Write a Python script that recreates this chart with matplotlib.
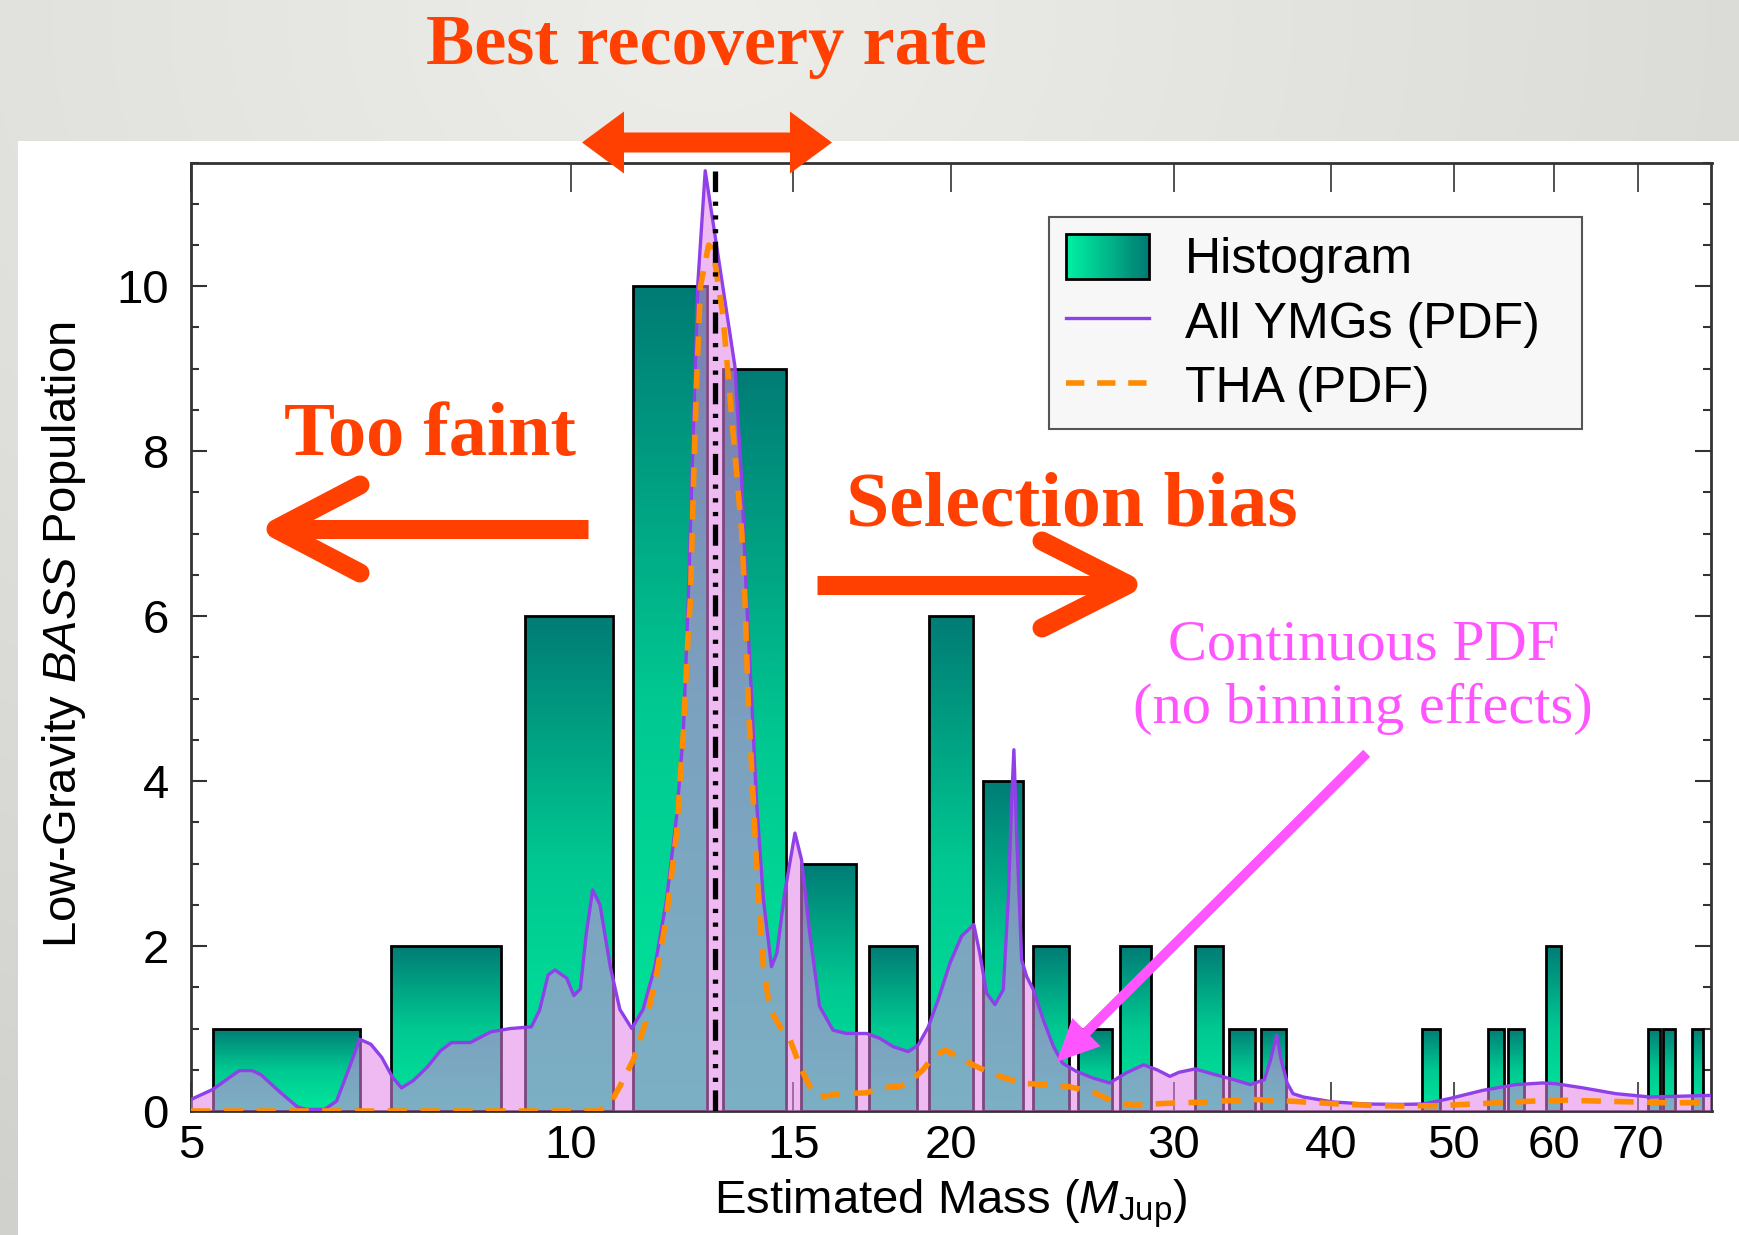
import numpy as np
import matplotlib
matplotlib.use("Agg")
import matplotlib.pyplot as plt
from matplotlib.patches import Rectangle, FancyArrow
from matplotlib.colors import LinearSegmentedColormap
from matplotlib.legend_handler import HandlerBase
from matplotlib.lines import Line2D
from matplotlib.ticker import FixedLocator, FixedFormatter, MultipleLocator, NullLocator

plt.rcParams['font.family'] = ['Liberation Sans', 'DejaVu Sans']
plt.rcParams['mathtext.fontset'] = 'custom'
plt.rcParams['mathtext.rm'] = 'Liberation Sans'
plt.rcParams['mathtext.it'] = 'Liberation Sans:italic'
plt.rcParams['mathtext.bf'] = 'Liberation Sans:bold'

# ---------------- data ----------------
# histogram of estimated masses (bins 2 M_Jup wide, labelled by centre)
bin_centers = [6, 8, 10, 12, 14, 16, 18, 20, 22, 24, 26, 28, 32, 34, 36,
               48, 54, 56, 60, 72, 74, 78]
counts = [1, 2, 6, 10, 9, 3, 2, 6, 4, 2, 1, 2, 2, 1, 1,
          1, 1, 1, 2, 1, 1, 1]
bin_width = 2.0

# summed probability density, all young moving groups
pdf_mass = [5.00, 5.20, 5.46, 5.59, 5.68, 5.87, 6.07, 6.17, 6.38, 6.52,
            6.66, 6.80, 6.94, 7.08, 7.22, 7.34, 7.50, 7.69, 7.88, 8.04,
            8.32, 8.64, 8.95, 9.30, 9.44, 9.59, 9.71, 9.92, 10.05, 10.17,
            10.28, 10.40, 10.54, 10.74, 10.93, 11.17, 11.40, 11.65, 11.90, 12.12,
            12.27, 12.34, 12.38, 12.46, 12.53, 12.60, 12.77, 13.48, 13.65, 13.77,
            13.90, 14.02, 14.20, 14.41, 14.55, 14.76, 15.04, 15.22, 15.45, 15.73,
            16.12, 16.52, 17.14, 17.56, 17.99, 18.49, 18.83, 19.18, 19.53, 19.95,
            20.38, 20.84, 21.07, 21.33, 21.66, 21.99, 22.19, 22.33, 22.42, 22.53,
            22.74, 22.95, 23.23, 23.66, 24.10, 24.50, 25.13, 25.90, 26.70, 27.50,
            28.40, 29.10, 29.80, 30.30, 31.20, 32.20, 33.30, 34.50, 35.40, 35.80,
            36.20, 36.50, 36.90, 37.30, 38.00, 40.10, 42.60, 45.30, 47.30, 49.60,
            52.70, 56.00, 58.80, 60.30, 63.30, 67.20, 71.50, 75.90, 80.00]
pdf_all = [0.14, 0.26, 0.49, 0.49, 0.44, 0.24, 0.05, 0.02, 0.02, 0.12,
           0.49, 0.87, 0.81, 0.65, 0.41, 0.28, 0.37, 0.53, 0.73, 0.83,
           0.83, 0.96, 1.00, 1.02, 1.22, 1.65, 1.71, 1.61, 1.40, 1.48,
           2.15, 2.68, 2.50, 1.75, 1.23, 1.00, 1.23, 1.75, 2.56, 3.57,
           4.58, 5.59, 6.20, 7.62, 8.83, 10.04, 11.40, 9.03, 7.62, 6.20,
           4.99, 3.77, 2.56, 1.75, 1.91, 2.64, 3.37, 3.05, 2.16, 1.27,
           0.98, 0.94, 0.94, 0.88, 0.78, 0.72, 0.80, 1.02, 1.35, 1.79,
           2.12, 2.26, 1.91, 1.43, 1.29, 1.47, 2.56, 3.77, 4.38, 3.37,
           1.83, 1.63, 1.47, 1.10, 0.78, 0.58, 0.48, 0.40, 0.34, 0.46,
           0.56, 0.50, 0.42, 0.47, 0.51, 0.45, 0.39, 0.32, 0.38, 0.62,
           0.92, 0.62, 0.34, 0.21, 0.17, 0.11, 0.085, 0.08, 0.085, 0.15,
           0.25, 0.32, 0.34, 0.33, 0.28, 0.21, 0.17, 0.18, 0.19]

# probability density, Tuc-Hor members only
tha_mass = [5.00, 10.50, 10.74, 10.93, 11.20, 11.47, 11.69, 11.90, 12.12, 12.27,
            12.38, 12.43, 12.50, 12.57, 12.66, 12.85, 12.95, 13.19, 13.40, 13.65,
            13.73, 13.81, 13.94, 14.07, 14.20, 14.37, 14.64, 14.91, 15.18, 15.45,
            15.73, 16.32, 17.14, 17.56, 18.20, 18.49, 19.00, 19.35, 19.80, 20.30,
            21.07, 21.86, 22.67, 23.66, 24.70, 25.90, 26.90, 27.90, 29.30, 32.00,
            34.50, 36.20, 38.00, 40.00, 42.60, 45.30, 48.50, 51.00, 54.30, 57.70,
            61.40, 65.20, 69.30, 73.70, 80.00]
tha_pdf = [0.00, 0.00, 0.09, 0.30, 0.62, 1.10, 1.67, 2.36, 3.37, 4.58,
           5.80, 6.20, 7.62, 8.83, 10.00, 10.50, 10.45, 9.64, 8.43, 7.01,
           6.20, 4.99, 3.77, 2.56, 1.75, 1.23, 1.02, 0.86, 0.54, 0.30,
           0.17, 0.21, 0.22, 0.28, 0.30, 0.34, 0.50, 0.66, 0.74, 0.64,
           0.52, 0.42, 0.34, 0.32, 0.30, 0.23, 0.11, 0.07, 0.09, 0.11,
           0.14, 0.13, 0.11, 0.09, 0.07, 0.06, 0.065, 0.08, 0.10, 0.12,
           0.13, 0.12, 0.11, 0.10, 0.10]

peak_mass = 13.0

x_ticks = [5, 10, 15, 20, 30, 40, 50, 60, 70]
x_ticklabels = ['5', '10', '15', '20', '30', '40', '50', '60', '70']
y_ticks = [0, 2, 4, 6, 8, 10]

legend_labels = ['Histogram', 'All YMGs (PDF)', 'THA (PDF)']

# ---------------- figure ----------------
W, H = 1739, 1235
fig = plt.figure(figsize=(W / 100, H / 100), dpi=100)

# grey slide backdrop with a white panel
bg = fig.add_axes([0, 0, 1, 1], zorder=-10)
bg.set_xlim(0, W)
bg.set_ylim(H, 0)
bg.axis('off')
yy, xx = np.mgrid[0:H:5, 0:W:5]
d = np.hypot((xx - 700) / 1300.0, (yy - 20) / 1000.0)
shade = 237 - 22 * np.clip(d, 0, 1.3)
img = np.dstack([shade, shade, shade - 4]) / 255.0
bg.imshow(img, extent=[0, W, H, 0], aspect='auto', interpolation='bilinear')
bg.add_patch(Rectangle((17.7, 140.8), W, H, facecolor='white', edgecolor='none'))

# main axes
ax = fig.add_axes([191 / W, 1 - 1111 / H, (1711.5 - 191) / W, (1111 - 162.5) / H])
ax.set_xscale('log')

bar_cmap = LinearSegmentedColormap.from_list('bar', ['#00e89b', '#00c891', '#007c75'])
lefts = [c - 0.4 * bin_width for c in bin_centers]
bars = ax.bar(lefts, counts, width=0.8 * bin_width, align='edge',
              facecolor='none', edgecolor='black', linewidth=2.0, zorder=3)
grad = np.linspace(0, 1, 256).reshape(-1, 1)
for rect in bars:
    x0 = rect.get_x()
    x1 = x0 + rect.get_width()
    h = rect.get_height()
    im = ax.imshow(grad, cmap=bar_cmap, extent=[x0, x1, 0, h], origin='lower',
                   aspect='auto', interpolation='bilinear', zorder=2)
    im.set_clip_path(rect)

ax.fill_between(pdf_mass, pdf_all, 0, facecolor='#e282e6', alpha=0.55,
                edgecolor='none', zorder=4)
ax.plot(pdf_mass, pdf_all, color='#9040e8', lw=2.4, zorder=5)
ax.plot(tha_mass, tha_pdf, color='#ff8c00', lw=4, dashes=(3.5, 2.4), zorder=6)
ax.plot([peak_mass, peak_mass], [0, max(pdf_all)], color='black', lw=3.8,
        dashes=(4.0, 1.6, 0.8, 1.8, 0.8, 1.8, 0.8, 1.8), zorder=7)

ax.set_xlim(5, 80)
ax.set_ylim(0, 11.5)

ax.xaxis.set_major_locator(FixedLocator(x_ticks))
ax.xaxis.set_major_formatter(FixedFormatter(x_ticklabels))
ax.xaxis.set_minor_locator(NullLocator())
ax.yaxis.set_major_locator(FixedLocator(y_ticks))
ax.yaxis.set_minor_locator(MultipleLocator(0.5))
ax.tick_params(axis='x', which='major', direction='in', length=21, width=1.2,
               top=True, bottom=True, labelsize=34, pad=9, color='#333333')
ax.tick_params(axis='y', which='major', direction='in', length=11.5, width=1.5,
               left=True, right=True, labelsize=34, pad=16, color='#333333')
ax.tick_params(axis='y', which='minor', direction='in', length=5.5, width=1.5,
               left=True, right=True, color='#333333')
for sp in ax.spines.values():
    sp.set_linewidth(2.0)
    sp.set_color('#333333')

fig.text(951 / W, 1 - 1213 / H, 'Estimated Mass ($M_{\\mathrm{Jup}}$)', fontsize=34,
         ha='center', va='baseline')
fig.text(64 / W, 1 - 634.5 / H, 'Low-Gravity $\\mathit{BASS}$ Population', fontsize=34,
         rotation=90, ha='center', va='center')


# legend with a gradient swatch for the histogram
class GradientSwatch(Rectangle):
    pass


class GradientHandler(HandlerBase):
    def create_artists(self, legend, orig_handle, xdescent, ydescent, width,
                       height, fontsize, trans):
        cm = LinearSegmentedColormap.from_list('leg', ['#00f0a2', '#00b88a', '#007a72'])
        n = 40
        arts = []
        for i in range(n):
            arts.append(Rectangle((-xdescent + width * i / n, -ydescent),
                                  width / n * 1.05, height, facecolor=cm(i / (n - 1)),
                                  edgecolor='none', transform=trans))
        arts.append(Rectangle((-xdescent, -ydescent), width, height, facecolor='none',
                              edgecolor='black', lw=2.0, transform=trans))
        return arts


handles = [GradientSwatch((0, 0), 1, 1),
           Line2D([], [], color='#9040e8', lw=2.4),
           Line2D([], [], color='#ff8c00', lw=4, dashes=(3.3, 2.3))]
leg = ax.legend(handles, legend_labels, handler_map={GradientSwatch: GradientHandler()},
                loc='upper left', bbox_to_anchor=(1049 / W, 1 - 427 / H, (1582 - 1049) / W, (427 - 217) / H),
                bbox_transform=fig.transFigure, mode='expand', borderaxespad=0,
                fontsize=36, handlelength=1.66, handleheight=1.0, handletextpad=0.72,
                labelspacing=0.3, borderpad=0.34, fancybox=False, framealpha=1,
                facecolor='#f7f7f7', edgecolor='#555555')
leg.get_frame().set_linewidth(1.5)

# annotation layer in pixel coordinates
ov = fig.add_axes([0, 0, 1, 1], zorder=5)
ov.set_xlim(0, W)
ov.set_ylim(H, 0)
ov.axis('off')

red = '#ff4000'
magenta = '#ff55ff'
serif = ['Liberation Serif', 'DejaVu Serif']

ov.text(706, 64, 'Best recovery rate', ha='center', va='baseline', fontsize=52,
        fontweight='bold', family=serif, color=red)
ov.text(430, 455, 'Too faint', ha='center', va='baseline', fontsize=55,
        fontweight='bold', family=serif, color=red)
ov.text(1072, 525, 'Selection bias', ha='center', va='baseline', fontsize=56,
        fontweight='bold', family=serif, color=red)
ov.text(1364, 659, 'Continuous PDF', ha='center', va='baseline', fontsize=42,
        family=serif, color=magenta)
ov.text(1363, 723, '(no binning effects)', ha='center', va='baseline', fontsize=42,
        family=serif, color=magenta)

# double-headed arrow above the peak
for dx in (-125, 125):
    ov.add_patch(FancyArrow(707, 142.5, dx, 0, width=20, head_width=62, head_length=42,
                            length_includes_head=True, color=red, lw=0))

# chevron arrows
lw_arrow = 13.7
ov.plot([588, 285], [529, 529], color=red, lw=lw_arrow, solid_capstyle='butt')
ov.plot([360, 276, 360], [485, 529, 573], color=red, lw=lw_arrow,
        solid_capstyle='round', solid_joinstyle='round')
ov.plot([817, 1120], [584.5, 584.5], color=red, lw=lw_arrow, solid_capstyle='butt')
ov.plot([1042, 1128, 1042], [541, 584.5, 628], color=red, lw=lw_arrow,
        solid_capstyle='round', solid_joinstyle='round')

# magenta pointer
ov.add_patch(FancyArrow(1366.7, 753.3, -310, 308.5, width=10, head_width=40,
                        head_length=42, length_includes_head=True, color=magenta, lw=0))

fig.savefig('out.png', dpi=100)
